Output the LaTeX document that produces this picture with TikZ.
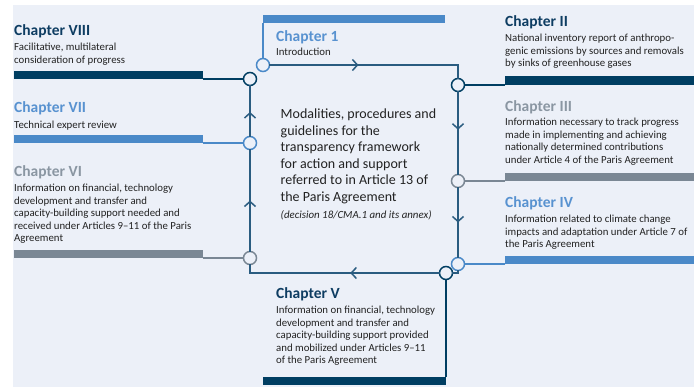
\documentclass[tikz,border=0pt]{standalone}
\usepackage{fontspec}
\setmainfont{Carlito}
\usetikzlibrary{arrows.meta,decorations.markings}
\definecolor{navy}{RGB}{0,62,98}
\definecolor{midblue}{RGB}{74,137,200}
\definecolor{greyc}{RGB}{122,135,148}
\definecolor{loopc}{RGB}{42,92,128}
\definecolor{bg}{RGB}{236,240,248}
\definecolor{txt}{RGB}{34,34,34}
\definecolor{tnavy}{RGB}{14,61,98}
\definecolor{tblue}{RGB}{88,146,208}
\definecolor{tgrey}{RGB}{138,150,162}
\newcommand{\mylines}[1]{\begin{tabular}[t]{@{}l@{}}#1\end{tabular}}
\begin{document}
\begin{tikzpicture}[x=1pt,y=-1pt,
 bar/.style={rectangle,inner sep=0,outer sep=0,anchor=north west,draw=none},
 dot/.style={circle,minimum size=13pt,inner sep=0,line width=1.5pt,fill=bg},
 title/.style={anchor=base west,inner sep=0,font=\fontsize{15.5}{18}\selectfont\bfseries},
 desc/.style={anchor=base west,inner sep=0,font=\fontsize{10.8}{12.5}\selectfont,text=txt},
 feed/.style={line width=1.2pt},
 loopline/.style={draw=loopc,line width=1.8pt,line cap=rect},
 midarrow/.style={postaction={decorate},decoration={markings,mark=at position #1 with {\arrow[loopc,line width=1.5pt]{Straight Barb[length=5pt,width=11pt]}}}},
]
\fill[white] (0,0) rectangle (694,387);
\fill[bg] (13,5) rectangle (694,387);
\useasboundingbox (0,0) rectangle (694,387);

% bars
\node[bar,fill=navy,minimum width=189pt,minimum height=8pt] (bVIII) at (14,71) {};
\node[bar,fill=midblue,minimum width=189pt,minimum height=8pt] (bVII) at (14,135) {};
\node[bar,fill=greyc,minimum width=189pt,minimum height=8pt] (bVI) at (14,250) {};
\node[bar,fill=midblue,minimum width=182pt,minimum height=8.5pt] (bI) at (263,15) {};
\node[bar,fill=navy,minimum width=189pt,minimum height=8.5pt] (bII) at (505,76.5) {};
\node[bar,fill=greyc,minimum width=189pt,minimum height=8pt] (bIII) at (505,173) {};
\node[bar,fill=midblue,minimum width=189pt,minimum height=8pt] (bIV) at (505,256) {};
\node[bar,fill=navy,minimum width=183pt,minimum height=8pt] (bV) at (263,377) {};

% circles
\node[dot,draw=midblue] (cI) at (263,65) {};
\node[dot,draw=navy] (cII) at (458,85) {};
\node[dot,draw=greyc] (cIII) at (458,181) {};
\node[dot,draw=midblue] (cIV) at (458,264) {};
\node[dot,draw=navy] (cV) at (446,273) {};
\node[dot,draw=greyc] (cVI) at (250,258) {};
\node[dot,draw=midblue] (cVII) at (250,143) {};
\node[dot,draw=navy] (cVIII) at (250,79) {};

% feeders
\draw[feed,navy] (bVIII.south east) -- (cVIII);
\draw[feed,midblue] (bVII.south east) -- (cVII);
\draw[feed,greyc] (bVI.south east) -- (cVI);
\draw[feed,midblue] (bI.south west) -- (cI);
\draw[feed,navy] (bII.south west) -- (cII);
\draw[feed,greyc] (bIII.south west) -- (cIII);
\draw[feed,midblue] (bIV.south west) -- (cIV);
\draw[feed,navy] (cV) -- (bV.north east);

% loop
\coordinate (tr) at (458,65);
\coordinate (br) at (458,273);
\coordinate (bl) at (250,273);
\draw[loopline,midarrow=0.44] (cI) -- (tr) -- (cII);
\draw[loopline,midarrow=0.46] (cII) -- (cIII);
\draw[loopline,midarrow=0.5] (cIII) -- (cIV);
\draw[loopline] (cIV) -- (br) -- (cV);
\draw[loopline,midarrow=0.45] (cV) -- (bl) -- (cVI);
\draw[loopline,midarrow=0.5] (cVI) -- (cVII);
\draw[loopline,midarrow=0.48] (cVII) -- (cVIII);

% texts
\node[title,text=tnavy] (tVIII) at (14,36) {Chapter VIII};
\node[desc] (dVIII) at (14,51) {\mylines{Facilitative, multilateral\\consideration of progress}};
\node[title,text=tblue] (tVII) at (14,113) {Chapter VII};
\node[desc] (dVII) at (14,129) {\mylines{Technical expert review}};
\node[title,text=tgrey] (tVI) at (14,177) {Chapter VI};
\node[desc] (dVI) at (14,192) {\mylines{Information on financial, technology\\development and transfer and\\capacity-building support needed and\\received under Articles 9--11 of the Paris\\Agreement}};
\node[title,text=tblue] (tI) at (276,42) {Chapter 1};
\node[desc] (dI) at (276,56) {\mylines{Introduction}};
\node[title,text=tnavy] (tII) at (505,27) {Chapter II};
\node[desc] (dII) at (505,42) {\mylines{National inventory report of anthropo-\\genic emissions by sources and removals\\by sinks of greenhouse gases}};
\node[title,text=tgrey] (tIII) at (505,112) {Chapter III};
\node[desc] (dIII) at (505,126) {\mylines{Information necessary to track progress\\made in implementing and achieving\\nationally determined contributions\\under Article 4 of the Paris Agreement}};
\node[title,text=tblue] (tIV) at (505,208) {Chapter IV};
\node[desc] (dIV) at (505,223) {\mylines{Information related to climate change\\impacts and adaptation under Article 7 of\\the Paris Agreement}};
\node[title,text=tnavy] (tV) at (276,299) {Chapter V};
\node[desc] (dV) at (276,314) {\mylines{Information on financial, technology\\development and transfer and\\capacity-building support provided\\and mobilized under Articles 9--11\\of the Paris Agreement}};
\node[anchor=base west,inner sep=0,font=\fontsize{14}{16.5}\selectfont,text=txt] (centre) at (280.5,119) {\mylines{Modalities, procedures and\\guidelines for the\\transparency framework\\for action and support\\referred to in Article 13 of\\the Paris Agreement\\[1pt]{\fontsize{10.9}{12}\selectfont\itshape (decision 18/CMA.1 and its annex)}}};
\end{tikzpicture}
\end{document}
